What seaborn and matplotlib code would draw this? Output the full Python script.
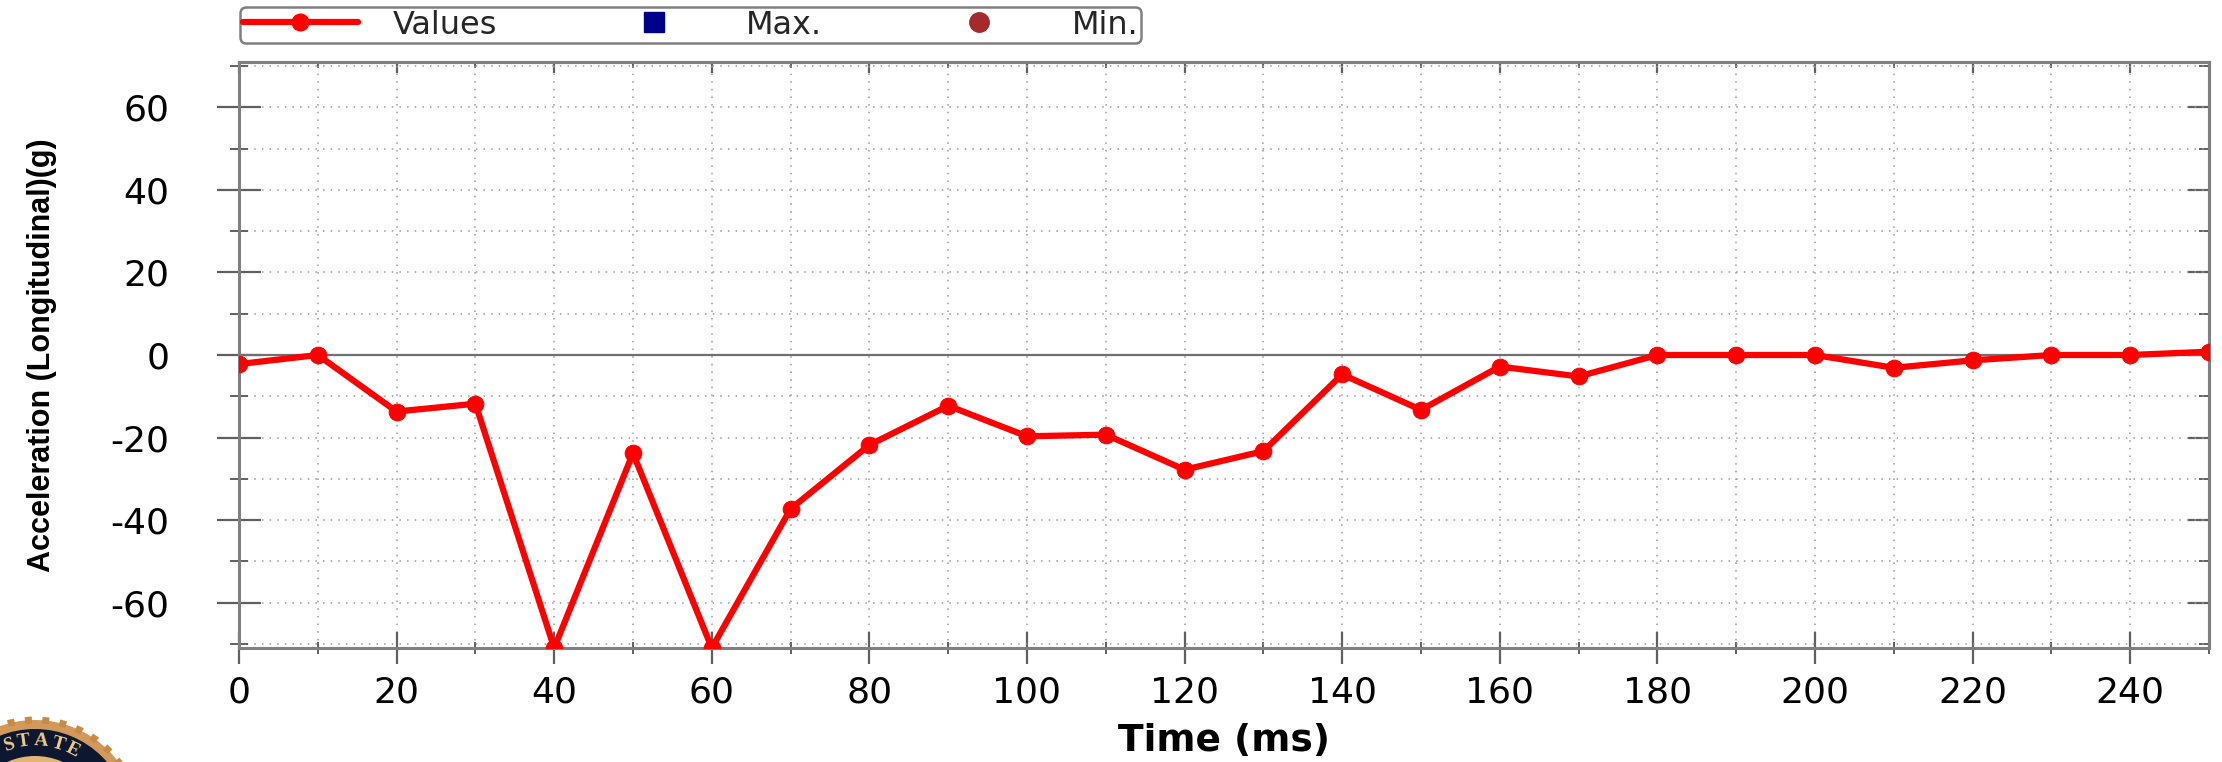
import numpy as np
import pandas as pd
import matplotlib
matplotlib.use("Agg")
import matplotlib.pyplot as plt
import seaborn as sns
from matplotlib.lines import Line2D
from matplotlib.patches import Circle
from matplotlib.transforms import IdentityTransform
from matplotlib.ticker import MultipleLocator, FixedLocator

# ---------------- data ----------------
time_ms = [0, 10, 20, 30, 40, 50, 60, 70, 80, 90, 100, 110, 120, 130, 140,
           150, 160, 170, 180, 190, 200, 210, 220, 230, 240, 250]
accel_g = [-2.2, 0.0, -13.7, -11.8, -71.0, -23.8, -71.0, -37.3, -21.8, -12.3,
           -19.7, -19.3, -27.8, -23.3, -4.7, -13.3, -2.8, -5.2, 0.0, 0.0,
           0.0, -3.1, -1.3, 0.0, 0.0, 0.8]
legend_labels = ["Values", "Max.", "Min."]
x_ticks = [0, 20, 40, 60, 80, 100, 120, 140, 160, 180, 200, 220, 240]
y_ticks = [-60, -40, -20, 0, 20, 40, 60]
x_label = "Time (ms)"
y_label = "Acceleration (Longitudinal)(g)"

df = pd.DataFrame({"time": time_ms, "accel": accel_g})

sns.set_style("white")
plt.rcParams["font.family"] = ["DejaVu Sans"]
plt.rcParams["axes.unicode_minus"] = False

W, H, DPI = 2222, 762, 100
fig = plt.figure(figsize=(W / DPI, H / DPI), dpi=DPI)
ax_l, ax_r, ax_t, ax_b = 239, 2209, 62, 648
ax = fig.add_axes([ax_l / W, 1 - ax_b / H, (ax_r - ax_l) / W, (ax_b - ax_t) / H])

# zero line and grid
ax.axhline(0, color="#707070", lw=1.6, zorder=1.5)
ax.set_axisbelow(True)

sns.lineplot(data=df, x="time", y="accel", ax=ax, color="#FF0000",
             lw=4.5, marker="o", markersize=12, markeredgecolor="#FF0000",
             zorder=3)

ax.set_xlim(0, 250)
ax.set_ylim(-71, 71)
ax.xaxis.set_major_locator(FixedLocator(x_ticks))
ax.yaxis.set_major_locator(FixedLocator(y_ticks))
ax.xaxis.set_minor_locator(MultipleLocator(10))
ax.yaxis.set_minor_locator(MultipleLocator(10))

ax.grid(which="both", axis="both", linestyle=(0, (1, 4)), color="#9a9a9a", lw=1.1)

for s in ax.spines.values():
    s.set_color("#808080")
    s.set_linewidth(2.2)

ax.tick_params(axis="y", which="major", direction="inout", length=32, width=1.6,
               color="#606060", labelsize=26, pad=34, labelcolor="black", left=True)
ax.tick_params(axis="y", which="minor", direction="inout", length=13, width=1.4,
               color="#606060", left=True)
ax.tick_params(axis="x", which="major", direction="inout", length=23, width=1.6,
               color="#606060", labelsize=26, pad=8, labelcolor="black", bottom=True)
ax.tick_params(axis="x", which="minor", direction="inout", length=9, width=1.4,
               color="#606060", bottom=True)

# right / top inward ticks
sec_r = ax.secondary_yaxis("right")
sec_r.yaxis.set_major_locator(FixedLocator(y_ticks))
sec_r.yaxis.set_minor_locator(MultipleLocator(10))
sec_r.tick_params(which="both", right=True, labelright=False, direction="in",
                  color="#606060")
sec_r.tick_params(which="major", length=15, width=1.6)
sec_r.tick_params(which="minor", length=7, width=1.4)
sec_r.spines["right"].set_color("#808080")
sec_r.spines["right"].set_linewidth(2.2)
sec_t = ax.secondary_xaxis("top")
sec_t.xaxis.set_major_locator(FixedLocator(x_ticks))
sec_t.xaxis.set_minor_locator(MultipleLocator(10))
sec_t.tick_params(which="both", top=True, labeltop=False, direction="in",
                  color="#606060")
sec_t.tick_params(which="major", length=8, width=1.6)
sec_t.tick_params(which="minor", length=4, width=1.4)
sec_t.spines["top"].set_color("#808080")
sec_t.spines["top"].set_linewidth(2.2)

ax.set_xlabel(x_label, fontsize=27, fontweight="bold", color="black")
ax.xaxis.set_label_coords(0.5, (H - 723 - (H - ax_b)) / (ax_b - ax_t))
ax.set_ylabel(y_label, fontsize=22, fontweight="bold", color="black",
              family=["Liberation Sans Narrow", "Liberation Sans", "DejaVu Sans"])
ax.yaxis.set_label_coords((57 - ax_l) / (ax_r - ax_l), 0.5)

# legend
handles = [
    Line2D([], [], color="#FF0000", lw=4.5, marker="o", markersize=12),
    Line2D([], [], color="#00008B", lw=0, marker="s", markersize=15),
    Line2D([], [], color="#A52A2A", lw=0, marker="o", markersize=14),
]
leg = fig.legend(handles, legend_labels, loc="upper left",
                 bbox_to_anchor=(240 / W, 1 - 7 / H), borderaxespad=0,
                 ncol=3, fontsize=23, handlelength=3.6, handletextpad=1.1,
                 columnspacing=3.1, borderpad=0.08, frameon=True,
                 fancybox=True, framealpha=1)
leg.get_frame().set_edgecolor("#808080")
leg.get_frame().set_linewidth(1.8)

# seal decoration (bottom-left, partially cut off)
cx, cy = 35, H - 824
tr = IdentityTransform()
fig.add_artist(Circle((cx, cy), 104, transform=tr, facecolor="#D19A5A",
                      edgecolor="#C98A45", lw=5, linestyle=(0, (1, 1.5))))
fig.add_artist(Circle((cx, cy), 95, transform=tr, facecolor="#0E1730", edgecolor="none"))
fig.add_artist(Circle((cx, cy), 68, transform=tr, facecolor="#E2B574", edgecolor="none"))
for ch, ang in zip("STATE", [-18, -8, 4, 16, 27]):
    a = np.deg2rad(ang)
    r = 83
    fig.text(cx + r * np.sin(a), cy + r * np.cos(a), ch, transform=tr,
             ha="center", va="center", rotation=-ang, color="#EDC98A",
             fontsize=14, fontweight="bold",
             family=["Liberation Serif", "DejaVu Serif"])

fig.savefig("out.png", dpi=DPI)
